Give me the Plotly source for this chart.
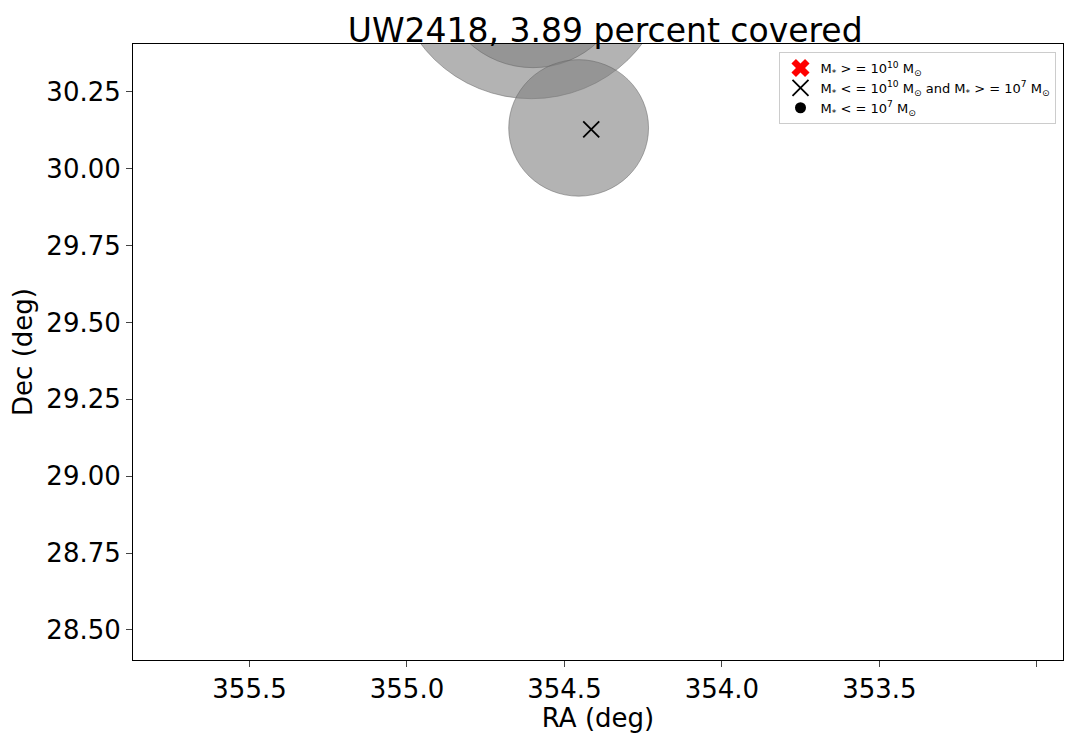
import plotly.graph_objects as go

# galaxy positions (deg) and coverage radii (deg)
circ_ra = [354.605, 354.60, 354.455]
circ_dec = [30.663, 30.624, 30.133]
circ_r = [0.435, 0.295, 0.222]
mid_ra = [354.415]
mid_dec = [30.128]

fig = go.Figure()
for ra, dec, r in zip(circ_ra, circ_dec, circ_r):
    fig.add_shape(type="circle", xref="x", yref="y", layer="below",
                  x0=ra - r, x1=ra + r, y0=dec - r, y1=dec + r,
                  fillcolor="rgba(128,128,128,0.6)", line=dict(color="rgba(100,100,100,0.5)", width=1))

fig.add_trace(go.Scatter(x=[None], y=[None], mode="markers", name="M<sub>*</sub> > = 10<sup>10</sup> M<sub>⊙</sub>",
                         marker=dict(symbol="x", color="red", size=16, line=dict(width=0))))
fig.add_trace(go.Scatter(x=mid_ra, y=mid_dec, mode="markers",
                         name="M<sub>*</sub> < = 10<sup>10</sup> M<sub>⊙</sub> and M<sub>*</sub> > = 10<sup>7</sup> M<sub>⊙</sub>",
                         marker=dict(symbol="x-thin", color="black", size=16, line=dict(width=1.8, color="black"))))
fig.add_trace(go.Scatter(x=[None], y=[None], mode="markers", name="M<sub>*</sub> < = 10<sup>7</sup> M<sub>⊙</sub>",
                         marker=dict(symbol="circle", color="black", size=11)))

ax = dict(showgrid=False, zeroline=False, showline=True, mirror=True, linecolor="black", automargin=False,
          ticks="outside", ticklen=6, tickfont=dict(size=26, color="black"))
fig.update_layout(
    width=1057, height=725, plot_bgcolor="white", paper_bgcolor="white",
    font=dict(family="DejaVu Sans", color="black"),
    margin=dict(l=125, r=2, t=36, b=73),
    title=dict(text="UW2418, 3.89 percent covered", x=0.565, xanchor="center", y=0.985, yanchor="top",
               font=dict(size=33, color="black")),
    xaxis=dict(ax, range=[355.87, 352.917], tickvals=[355.5, 355.0, 354.5, 354.0, 353.5, 353.0],
               ticktext=["355.5", "355.0", "354.5", "354.0", "353.5", "353.0"],
               title=dict(text="RA (deg)", font=dict(size=26), standoff=8)),
    yaxis=dict(ax, range=[28.402, 30.406], tickvals=[28.5, 28.75, 29.0, 29.25, 29.5, 29.75, 30.0, 30.25],
               ticktext=["28.50", "28.75", "29.00", "29.25", "29.50", "29.75", "30.00", "30.25"],
               title=dict(text="Dec (deg)", font=dict(size=26), standoff=8)),
    legend=dict(x=0.993, y=0.987, xanchor="right", yanchor="top", bgcolor="white",
                bordercolor="#cccccc", borderwidth=1, font=dict(size=13)),
)
fig.write_html("out.html")
